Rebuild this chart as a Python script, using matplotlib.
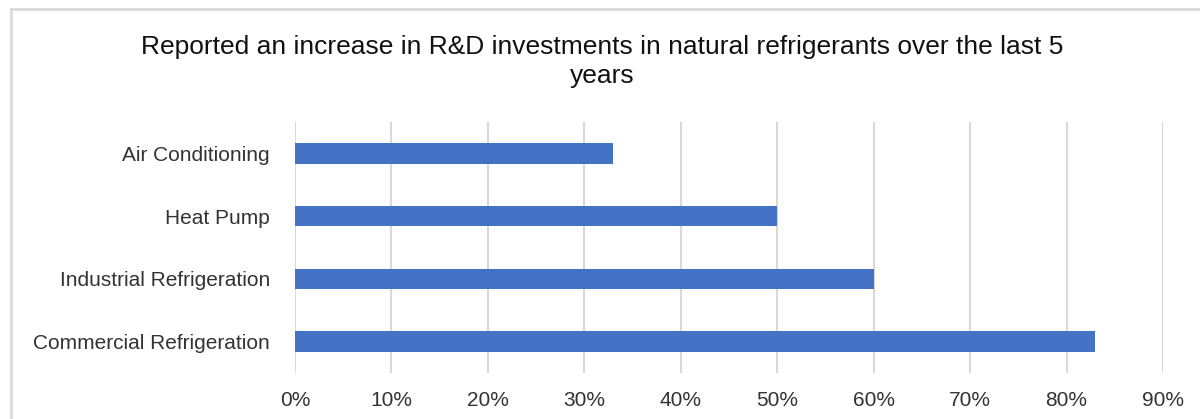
import matplotlib
matplotlib.use("Agg")
import matplotlib.pyplot as plt
from matplotlib.patches import Rectangle
from matplotlib.ticker import FuncFormatter

# data
categories = ["Commercial Refrigeration", "Industrial Refrigeration",
              "Heat Pump", "Air Conditioning"]
shares = [83, 60, 50, 33]
x_ticks = [0, 10, 20, 30, 40, 50, 60, 70, 80, 90]

title = ("Reported an increase in R&D investments in natural refrigerants over the last 5\n"
         "years")

plt.rcParams["font.family"] = ["Liberation Sans", "DejaVu Sans"]

fig = plt.figure(figsize=(12, 4.19), dpi=100)
ax = fig.add_axes([295 / 1200, 1 - 373 / 419, (1163 - 295) / 1200, (373 - 122) / 419])

ax.barh(range(len(categories)), shares, height=0.33, color="#4472C4", zorder=3)

ax.set_xlim(0, 90)
ax.set_ylim(-0.5, len(categories) - 0.5)
ax.set_xticks(x_ticks)
ax.xaxis.set_major_formatter(FuncFormatter(lambda v, _: f"{v:.0f}%"))
ax.set_yticks(range(len(categories)))
ax.set_yticklabels(categories)

ax.grid(axis="x", color="#d9d9d9", linewidth=1.5, zorder=0)
ax.tick_params(axis="both", length=0, labelsize=15, colors="#333333")
ax.tick_params(axis="x", pad=13)
ax.tick_params(axis="y", pad=18)
for s in ax.spines.values():
    s.set_visible(False)

fig.text(602 / 1200, 1 - 61.5 / 419, title, ha="center", va="center",
         fontsize=19, color="#111111", linespacing=1.25)

# light frame around the chart area
fig.patches.append(Rectangle((11 / 1200, -0.05), 1.0, 1 - 9 / 419 + 0.05,
                             transform=fig.transFigure, fill=False,
                             edgecolor="#d9d9d9", linewidth=2))

fig.savefig("out.png", dpi=100)
